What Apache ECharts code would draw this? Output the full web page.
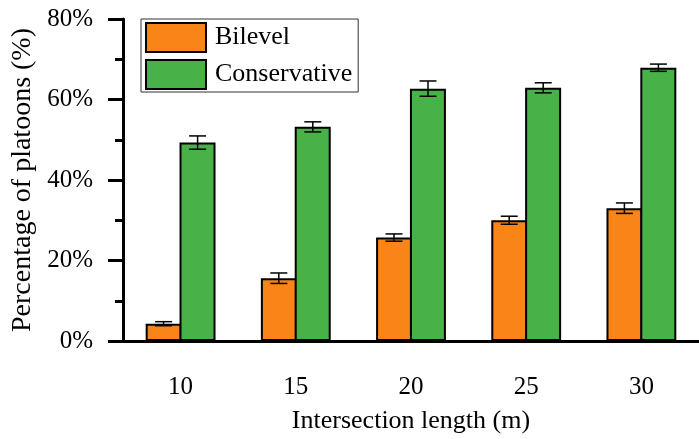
<!DOCTYPE html>
<html>
<head>
<meta charset="utf-8">
<script src="https://cdn.jsdelivr.net/npm/echarts@6/dist/echarts.min.js"></script>
<style>
  html, body { margin: 0; padding: 0; background: #fff; }
  #chart { width: 699px; height: 439px; }
</style>
</head>
<body>
<div id="chart"></div>
<script>
const categories = ['10', '15', '20', '25', '30'];
const bilevel = [4.3, 15.6, 25.7, 30.0, 33.0];
const bilevelErr = [0.5, 1.3, 0.9, 1.0, 1.3];
const conservative = [49.3, 53.2, 62.7, 62.9, 67.9];
const conservativeErr = [1.65, 1.25, 1.9, 1.25, 0.9];
const yTicks = [0, 20, 40, 60, 80];

const FONT = "'Liberation Serif', 'Times New Roman', serif";
const BAR_WIDTH = 36;

function errorSeries(values, errs, side) {
  return {
    type: 'custom',
    silent: true,
    z: 5,
    data: values.map((v, i) => [i, v - errs[i], v + errs[i]]),
    renderItem: (params, api) => {
      const lo = api.coord([api.value(0), api.value(1)]);
      const hi = api.coord([api.value(0), api.value(2)]);
      const x = lo[0] + side * (BAR_WIDTH / 2 - 1);
      const cap = 8.5;
      const style = { stroke: '#000', lineWidth: 1.5 };
      return {
        type: 'group',
        children: [
          { type: 'line', shape: { x1: x, y1: lo[1], x2: x, y2: hi[1] }, style },
          { type: 'line', shape: { x1: x - cap, y1: lo[1], x2: x + cap, y2: lo[1] }, style },
          { type: 'line', shape: { x1: x - cap, y1: hi[1], x2: x + cap, y2: hi[1] }, style },
        ],
      };
    },
  };
}

const chart = echarts.init(document.getElementById('chart'));

chart.setOption({
  animation: false,
  textStyle: { fontFamily: FONT, color: '#000' },
  grid: { left: 123, top: 19, width: 586, height: 324 },
  legend: {
    data: ['Bilevel', 'Conservative'],
    orient: 'vertical',
    left: 141,
    top: 19,
    padding: [3, 6, 2, 4],
    itemWidth: 60,
    itemHeight: 29,
    itemGap: 6,
    borderColor: '#333',
    borderWidth: 1,
    icon: 'rect',
    itemStyle: { borderColor: '#000', borderWidth: 2 },
    textStyle: { fontFamily: FONT, fontSize: 26, lineHeight: 29, color: '#000', padding: [0, 0, 0, 4] },
  },
  xAxis: {
    type: 'category',
    data: categories,
    name: 'Intersection length (m)',
    nameLocation: 'middle',
    nameGap: 67,
    nameTextStyle: { fontFamily: FONT, fontSize: 26, color: '#000' },
    axisLine: { lineStyle: { color: '#000', width: 3 } },
    axisTick: { alignWithLabel: true, length: 15, lineStyle: { color: '#000', width: 3 } },
    axisLabel: { margin: 34, fontFamily: FONT, fontSize: 25, color: '#000' },
  },
  yAxis: {
    type: 'value',
    min: yTicks[0],
    max: yTicks[yTicks.length - 1],
    interval: 20,
    name: 'Percentage of platoons (%)',
    nameLocation: 'middle',
    nameGap: 83,
    nameTextStyle: { fontFamily: FONT, fontSize: 28, color: '#000' },
    axisLine: { show: true, lineStyle: { color: '#000', width: 3 } },
    axisTick: { show: true, length: 15, lineStyle: { color: '#000', width: 3 } },
    minorTick: { show: true, splitNumber: 2, length: 8, lineStyle: { color: '#000', width: 3 } },
    splitLine: { show: false },
    axisLabel: { margin: 30, fontFamily: FONT, fontSize: 25, color: '#000', formatter: '{value}%' },
  },
  series: [
    {
      name: 'Bilevel',
      type: 'bar',
      data: bilevel,
      barWidth: BAR_WIDTH,
      barGap: '-6%',
      itemStyle: { color: '#F98518', borderColor: '#000', borderWidth: 2 },
    },
    {
      name: 'Conservative',
      type: 'bar',
      data: conservative,
      barWidth: BAR_WIDTH,
      barGap: '-6%',
      itemStyle: { color: '#48B148', borderColor: '#000', borderWidth: 2 },
    },
    errorSeries(bilevel, bilevelErr, -1),
    errorSeries(conservative, conservativeErr, 1),
  ],
});
</script>
</body>
</html>
